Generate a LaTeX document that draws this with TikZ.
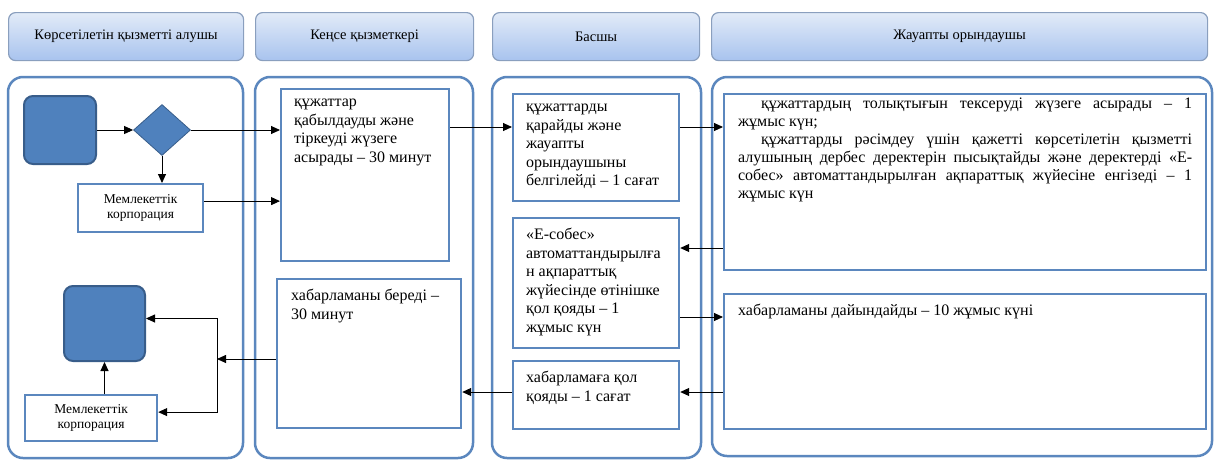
\documentclass[tikz,border=0pt]{standalone}
\usepackage{fontspec}
\setmainfont{Liberation Serif}
\usetikzlibrary{shapes.geometric, arrows.meta}
\definecolor{laneblue}{HTML}{5B87BE}
\definecolor{darkblue}{HTML}{385D8A}
\definecolor{fillblue}{HTML}{4F81BD}
\definecolor{hdrtop}{HTML}{E2EBF8}
\definecolor{hdrbot}{HTML}{A8C3EE}
\definecolor{hdrline}{HTML}{8A9FBE}
\tikzstyle{header} = [rectangle, rounded corners=7pt, draw=hdrline, line width=1.2pt, top color=hdrtop, bottom color=hdrbot, anchor=north west, inner sep=0pt, font=\fontsize{14.5}{16}\selectfont]
\tikzstyle{lane} = [rounded corners=15pt, draw=laneblue, line width=2.5pt]
\tikzstyle{terminal} = [rectangle, rounded corners=9pt, draw=darkblue, line width=2pt, fill=fillblue, anchor=north west, inner sep=0pt]
\tikzstyle{decision} = [diamond, draw=darkblue, line width=0.8pt, fill=fillblue, minimum width=57pt, minimum height=51pt, inner sep=0pt]
\tikzstyle{process} = [rectangle, draw=laneblue, line width=2.2pt, fill=white, anchor=north west, inner xsep=13pt, inner ysep=10pt, font=\fontsize{16}{18.5}\selectfont]
\tikzstyle{corp} = [rectangle, draw=laneblue, line width=2.2pt, fill=white, anchor=north west, inner sep=0pt, align=center, font=\fontsize{13.5}{15.5}\selectfont]
\tikzstyle{arrow} = [line width=0.9pt,->,>={Triangle[length=9pt,width=8pt]}]
\newcommand{\boxtext}[3]{\parbox[c][#2][t]{#1}{\raggedright #3}}

\begin{document}
\begin{tikzpicture}[x=1pt, y=-1pt]
    \useasboundingbox (0,0) rectangle (1217,461);

    %lanes
    \draw [lane] (8,77) rectangle (243,458);
    \draw [lane] (255,77) rectangle (473,458);
    \draw [lane] (492,77) rectangle (701,458);
    \draw [lane] (712,77) rectangle (1212,456);

    %headers
    \node (hdr1) [header, minimum width=235pt, minimum height=48pt] at (8,12) {Көрсетілетін қызметті алушы};
    \node (hdr2) [header, minimum width=218pt, minimum height=48pt] at (255,12) {Кеңсе қызметкері};
    \node (hdr3) [header, minimum width=207pt, minimum height=48pt] at (492,12) {Басшы};
    \node (hdr4) [header, minimum width=496pt, minimum height=48pt] at (711,12) {Жауапты орындаушы};

    %nodes
    \node (start) [terminal, minimum width=72pt, minimum height=68pt] at (23,95) {};
    \node (dec) [decision] at (162,130) {};
    \node (corp1) [corp, minimum width=125pt, minimum height=48pt] at (77,183) {Мемлекеттік\\корпорация};
    \node (finish) [terminal, minimum width=81pt, minimum height=75pt] at (63,285) {};
    \node (corp2) [corp, minimum width=132pt, minimum height=46pt] at (24,394) {Мемлекеттік\\корпорация};

    \node (kbox1) [process] at (280,88) {\boxtext{142pt}{152pt}{құжаттар\\қабылдауды және\\тіркеуді жүзеге\\асырады – 30 минут}};
    \node (kbox2) [process, inner xsep=14pt] at (276,278) {\boxtext{156pt}{129pt}{хабарламаны береді –\\30 минут}};

    \node (bbox1) [process] at (512,93) {\boxtext{140pt}{87pt}{құжаттарды\\қарайды және\\жауапты\\орындаушыны\\белгілейді – 1 сағат}};
    \node (bbox2) [process] at (512,217) {\boxtext{140pt}{110pt}{«Е-собес»\\автоматтандырылға\\н ақпараттық\\жүйесінде өтінішке\\қол қояды – 1\\жұмыс күн}};
    \node (bbox3) [process] at (512,360) {\boxtext{140pt}{48pt}{хабарламаға қол\\қояды – 1 сағат}};

    \node (ebox1) [process, inner xsep=14pt, inner ysep=4pt, font=\fontsize{16}{18}\selectfont] at (723,93) {\parbox[c][168pt][t]{454pt}{\setlength{\parindent}{23pt}құжаттардың толықтығын тексеруді жүзеге асырады – 1\linebreak жұмыс күн;\par құжаттарды рәсімдеу үшін қажетті көрсетілетін қызметті\linebreak алушының дербес деректерін пысықтайды және деректерді «Е-\linebreak собес» автоматтандырылған ақпараттық жүйесіне енгізеді – 1\linebreak жұмыс күн}};
    \node (ebox2) [process, inner xsep=14pt] at (723,293) {\boxtext{454pt}{115pt}{хабарламаны дайындайды – 10 жұмыс күні}};

    \coordinate (jn) at (217,359);

    %arrows
    \draw [arrow] (start) -- (dec);
    \draw [arrow] (dec.south) -- (dec.south |- corp1.north);
    \draw [arrow] (dec.east) -- (dec.east -| kbox1.west);
    \draw [arrow] ([yshift=7pt]corp1.east) -- ([yshift=7pt]corp1.east -| kbox1.west);
    \draw [arrow] ([yshift=-39pt]kbox1.north east) -- ([yshift=-39pt]kbox1.north east -| bbox1.west);
    \draw [arrow] ([yshift=-34pt]bbox1.north east) -- ([yshift=-34pt]bbox1.north east -| ebox1.west);
    \draw [arrow] ([yshift=-155pt]ebox1.north west) -- ([yshift=-155pt]ebox1.north west -| bbox2.east);
    \draw [arrow] ([yshift=-100pt]bbox2.north east) -- ([yshift=-100pt]bbox2.north east -| ebox2.west);
    \draw [arrow] ([yshift=-99pt]ebox2.north west) -- ([yshift=-99pt]ebox2.north west -| bbox3.east);
    \draw [arrow] ([yshift=-32pt]bbox3.north west) -- ([yshift=-32pt]bbox3.north west -| kbox2.east);

    \draw [arrow] (kbox2.west |- jn) -- (jn);
    \draw [arrow] (jn) |- ([yshift=5pt]finish.east);
    \draw [arrow] (jn) |- ([yshift=6pt]corp2.east);
    \draw [arrow] (finish.south |- corp2.north) -- (finish.south);

\end{tikzpicture}
\end{document}
